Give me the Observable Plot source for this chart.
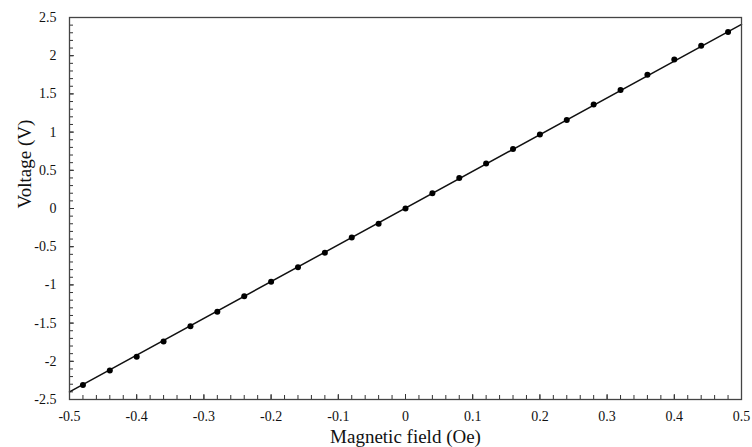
<!DOCTYPE html>
<html>
<head>
<meta charset="utf-8">
<script src="https://cdn.jsdelivr.net/npm/d3@7"></script>
<script src="https://cdn.jsdelivr.net/npm/@observablehq/plot@0.6"></script>
<style>
  html, body { margin: 0; padding: 0; background: #fff; }
  #chart svg, #chart svg text { font-family: "Liberation Serif", "Times New Roman", serif !important; }
</style>
</head>
<body>
<div id="chart"></div>
<script>
// Measured points
const fieldOe = [-0.48,-0.44,-0.40,-0.36,-0.32,-0.28,-0.24,-0.20,-0.16,-0.12,-0.08,-0.04,0,
                 0.04,0.08,0.12,0.16,0.20,0.24,0.28,0.32,0.36,0.40,0.44,0.48];
const voltage = [-2.31,-2.12,-1.94,-1.74,-1.54,-1.35,-1.15,-0.96,-0.77,-0.58,-0.38,-0.20,0,
                 0.20,0.40,0.59,0.78,0.97,1.16,1.36,1.55,1.75,1.95,2.13,2.31];
// Linear fit line endpoints
const fitField = [-0.5, 0.5];
const fitVoltage = [-2.4, 2.41];
// Tick labels
const xTickValues = [-0.5,-0.4,-0.3,-0.2,-0.1,0,0.1,0.2,0.3,0.4,0.5];
const yTickValues = [-2.5,-2,-1.5,-1,-0.5,0,0.5,1,1.5,2,2.5];
const xMinorTicks = d3.range(-50, 51, 2).map(d => d / 100);
const yMinorTicks = d3.range(-25, 26, 1).map(d => d / 10);
const xTitle = "Magnetic field (Oe)";
const yTitle = "Voltage (V)";

const points = fieldOe.map((x, i) => ({x, y: voltage[i]}));
const fit = fitField.map((x, i) => ({x, y: fitVoltage[i]}));

const W = 752, H = 447, ML = 69, MR = 11, MT = 17, MB = 48;
const plotW = W - ML - MR, plotH = H - MT - MB;
const fmt = d => String(d);

const chart = Plot.plot({
  width: W,
  height: H,
  marginLeft: ML,
  marginRight: MR,
  marginTop: MT,
  marginBottom: MB,
  x: {domain: [-0.5, 0.5]},
  y: {domain: [-2.5, 2.5]},
  marks: [
    Plot.axisX(xTickValues, {tickSize: 0, tickPadding: 12, tickFormat: fmt, fontSize: 14, fill: "#111", label: null}),
    Plot.axisY(yTickValues, {tickSize: 0, tickPadding: 13, tickFormat: fmt, fontSize: 14, fill: "#111", label: null}),
    Plot.tickX(xMinorTicks, {x: d => d, insetTop: plotH - 4, stroke: "#333", strokeWidth: 1}),
    Plot.tickX(xTickValues, {x: d => d, insetTop: plotH - 5, stroke: "#333", strokeWidth: 1}),
    Plot.tickY(yMinorTicks, {y: d => d, insetRight: plotW - 4, stroke: "#333", strokeWidth: 1}),
    Plot.tickY(yTickValues, {y: d => d, insetRight: plotW - 5, stroke: "#333", strokeWidth: 1}),
    Plot.line(fit, {x: "x", y: "y", stroke: "#111", strokeWidth: 1.5}),
    Plot.dot(points, {x: "x", y: "y", r: 3, fill: "#000", stroke: null}),
    Plot.frame({stroke: "#444", strokeWidth: 1.3}),
    Plot.text([xTitle], {frameAnchor: "bottom", dy: 43, fontSize: 19, fill: "#111"}),
    Plot.text([yTitle], {frameAnchor: "left", dx: -45, rotate: -90, fontSize: 19, fill: "#111"})
  ]
});
document.getElementById("chart").appendChild(chart);
</script>
</body>
</html>
